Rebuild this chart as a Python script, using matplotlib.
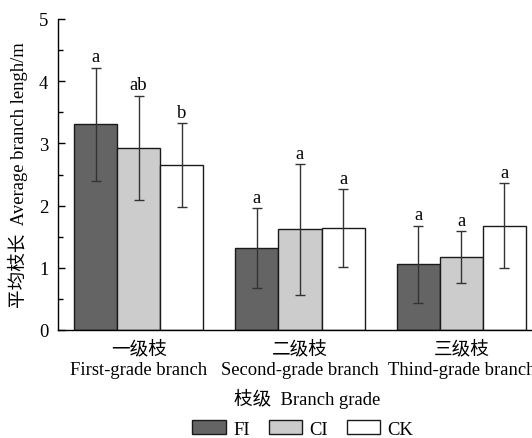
import matplotlib
matplotlib.use("Agg")
import matplotlib.pyplot as plt
import numpy as np

plt.rcParams['font.family'] = ['Liberation Serif', 'Noto Sans CJK SC']
plt.rcParams['font.size'] = 13.4

categories_cn = ['一级枝', '二级枝', '三级枝']
categories_en = ['First-grade branch', 'Second-grade branch', 'Thind-grade branch']
series = ['FI', 'CI', 'CK']
fi_mean = [3.31, 1.32, 1.06]
fi_err = [0.91, 0.64, 0.62]
ci_mean = [2.93, 1.62, 1.17]
ci_err = [0.84, 1.05, 0.42]
ck_mean = [2.65, 1.64, 1.68]
ck_err = [0.68, 0.63, 0.68]
fi_letters = ['a', 'a', 'a']
ci_letters = ['ab', 'a', 'a']
ck_letters = ['b', 'a', 'a']

means = [fi_mean, ci_mean, ck_mean]
errs = [fi_err, ci_err, ck_err]
letters = [fi_letters, ci_letters, ck_letters]
colors = ['#646464', '#cccccc', '#ffffff']

fig = plt.figure(figsize=(5.32, 4.39), dpi=100)
ax = fig.add_axes([58/532, 108/439, 484/532, 311/439])

x = np.arange(1, len(categories_cn) + 1)
w = 0.8 / 3
for i, s in enumerate(series):
    xs = x + (i - 1) * w
    ax.bar(xs, means[i], width=w, color=colors[i], edgecolor='#1a1a1a',
           linewidth=1.0, label=s, zorder=2)
    ax.errorbar(xs, means[i], yerr=errs[i], fmt='none', ecolor='#333333',
                elinewidth=1.0, capsize=3.5, capthick=1.0, zorder=3)
    for xi, m, e, t in zip(xs, means[i], errs[i], letters[i]):
        ax.text(xi, m + e + 0.1, t, ha='center', va='baseline')

ax.set_xlim(0.5, 3.5)
ax.set_ylim(0, 5)
ax.set_yticks([0, 1, 2, 3, 4, 5])
ax.set_yticks(np.arange(0.5, 5, 1), minor=True)
ax.tick_params(axis='y', which='major', direction='in', length=5, width=1, pad=7)
ax.tick_params(axis='y', which='minor', direction='in', length=3.5, width=1)
ax.set_xticks(x)
ax.set_xticklabels([c + '\n' + e for c, e in zip(categories_cn, categories_en)],
                   linespacing=1.25)
ax.tick_params(axis='x', length=0, pad=7)
ax.spines['top'].set_visible(False)
ax.spines['right'].set_visible(False)
ax.spines['left'].set_linewidth(1.0)
ax.spines['bottom'].set_linewidth(1.0)
ax.set_ylabel('平均枝长  Average branch lengh/m')
ax.yaxis.set_label_coords(-30/484, 0.5)

fig.text(307/532, 1 - 399/439, '枝级  Branch grade', ha='center', va='center')

fig.legend(loc='center', bbox_to_anchor=(303/532, 1 - 430/439), ncol=3,
           frameon=False, handlelength=1.8, handleheight=0.8,
           columnspacing=1.0, handletextpad=0.4, borderpad=0)

fig.savefig('out.png', dpi=100)
